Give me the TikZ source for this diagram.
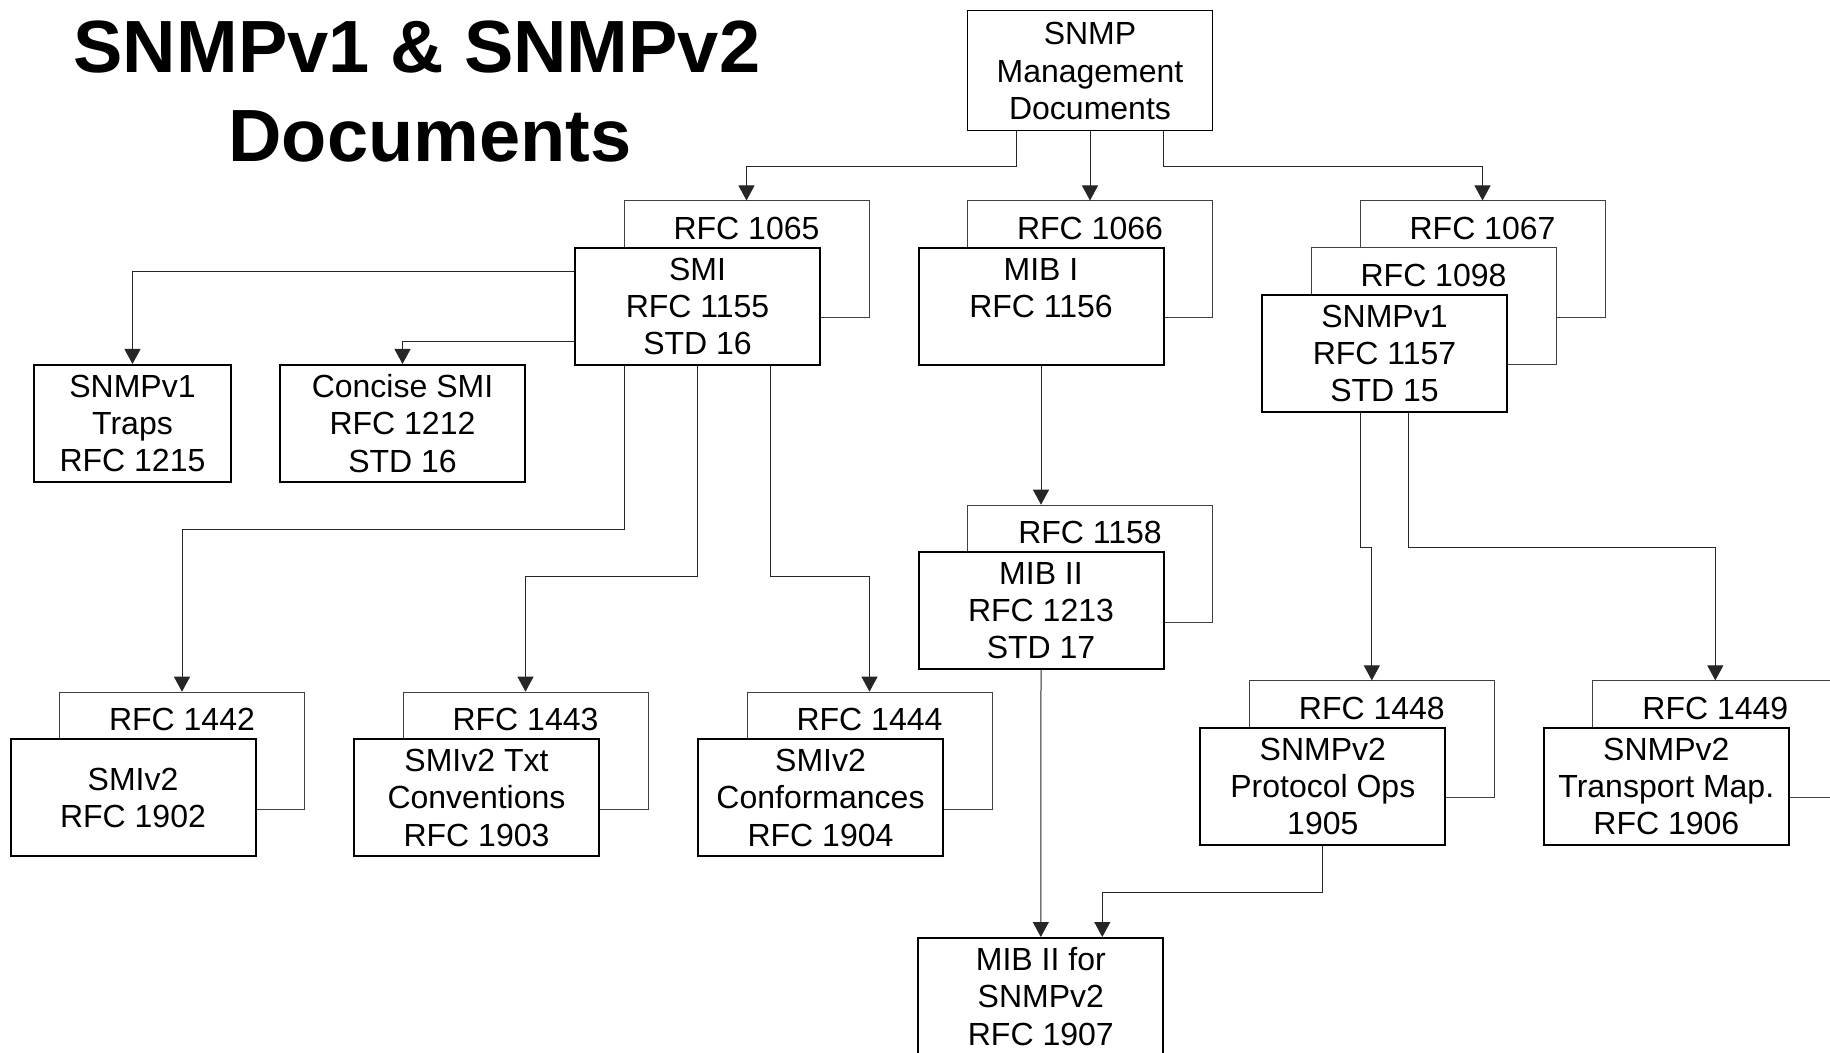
\documentclass[tikz,border=0pt]{standalone}
\usepackage{fontspec}
\setmainfont{Liberation Sans}
\usetikzlibrary{arrows.meta}
\begin{document}
\begin{tikzpicture}[x=0.5pt, y=-0.5pt, >={Triangle[width=8pt,length=7.5pt]},
		every node/.style={font=\fontsize{16pt}{18.7pt}\selectfont, align=center, inner sep=2pt},
		front/.style={draw, line width=1pt, fill=white, minimum width=122.5pt, minimum height=58.5pt},
		back/.style={draw=black!75, line width=0.5pt, fill=white, minimum width=122.5pt, minimum height=58.5pt,
			label={[anchor=base, yshift=-19.5pt]north:#1}},
		conn/.style={->, draw=black!85, line width=0.5pt}]
			\useasboundingbox (0,0) rectangle (1830,1053);
			% title
			\node[font=\fontsize{37pt}{44pt}\selectfont\bfseries, anchor=base] (title) at (417,73) {SNMPv1 \& SNMPv2};
			\node[font=\fontsize{37pt}{44pt}\selectfont\bfseries, anchor=base] (title2) at (430,162) {Documents};
			% boxes
			\node[front, line width=0.5pt, minimum height=60pt] (top) at (1090,71) {SNMP\\Management\\Documents};
			\node[back=RFC 1065] (r1065) at (746.5,259.5) {};
			\node[front] (smi) at ([shift={(-49,47)}]r1065) {SMI\\RFC 1155\\STD 16};
			\node[back=RFC 1066] (r1066) at (1090,259.5) {};
			\node[front] (mib1) at ([shift={(-49,47)}]r1066) {MIB I\\RFC 1156\\\mbox{}};
			\node[back=RFC 1067] (r1067) at (1482.5,259.5) {};
			\node[back=RFC 1098] (r1098) at ([shift={(-49,47)}]r1067) {};
			\node[front] (v1) at ([shift={(-49,47)}]r1098) {SNMPv1\\RFC 1157\\STD 15};
			\node[front, minimum width=98.5pt] (traps) at (132.5,423.5) {SNMPv1\\Traps\\RFC 1215};
			\node[front] (concise) at (402.5,423.5) {Concise SMI\\RFC 1212\\STD 16};
			\node[back=RFC 1158] (r1158) at (1090,563.7) {};
			\node[front] (mib2) at ([shift={(-49,47)}]r1158) {MIB II\\RFC 1213\\STD 17};
			\node[back=RFC 1442] (r1442) at (182,750.7) {};
			\node[front] (smiv2) at ([shift={(-49,47)}]r1442) {SMIv2\\RFC 1902};
			\node[back=RFC 1443] (r1443) at (525.5,750.7) {};
			\node[front] (txt) at ([shift={(-49,47)}]r1443) {SMIv2 Txt\\Conventions\\RFC 1903};
			\node[back=RFC 1444] (r1444) at (869.5,750.7) {};
			\node[front] (conf) at ([shift={(-49,47)}]r1444) {SMIv2\\Conformances\\RFC 1904};
			\node[back=RFC 1448] (r1448) at (1371.8,739.4) {};
			\node[front] (ops) at ([shift={(-49,47)}]r1448) {SNMPv2\\Protocol Ops\\1905};
			\node[back=RFC 1449] (r1449) at (1715.3,739.4) {};
			\node[front] (tmap) at ([shift={(-49,47)}]r1449) {SNMPv2\\Transport Map.\\RFC 1906};
			\node[front] (mib2v2) at (1040.8,996.5) {MIB II for\\SNMPv2\\RFC 1907};
			% connectors
			\draw[conn] ([xshift=-37pt]top.south) -- ++(0,34.7) -| (r1065.north);
			\draw[conn] (top.south) -- (r1066.north);
			\draw[conn] ([xshift=36.5pt]top.south) -- ++(0,34.7) -| (r1067.north);
			\draw[conn] ([yshift=17.3pt]smi.west) -| (traps.north);
			\draw[conn] ([yshift=-17.5pt]smi.west) -| (concise.north);
			\draw[conn] ([xshift=-36.75pt]smi.south) -- ++(0,163.2) -| (r1442.north);
			\draw[conn] (smi.south) -- ++(0,210.4) -| (r1443.north);
			\draw[conn] ([xshift=36.5pt]smi.south) -- ++(0,210.4) -| (r1444.north);
			\draw[conn] (mib1.south) -- (mib1.south |- r1158.north);
			\draw[conn] (mib2.south) -- (mib2v2.north);
			\draw[conn] (ops.south) -- ++(0,46.7) -| ([xshift=30.75pt]mib2v2.north);
			\draw[conn] ([xshift=-12pt]v1.south) -- ++(0,134.5) -| (r1448.north);
			\draw[conn] ([xshift=12pt]v1.south) -- ++(0,134.5) -| (r1449.north);
		\end{tikzpicture}
\end{document}
